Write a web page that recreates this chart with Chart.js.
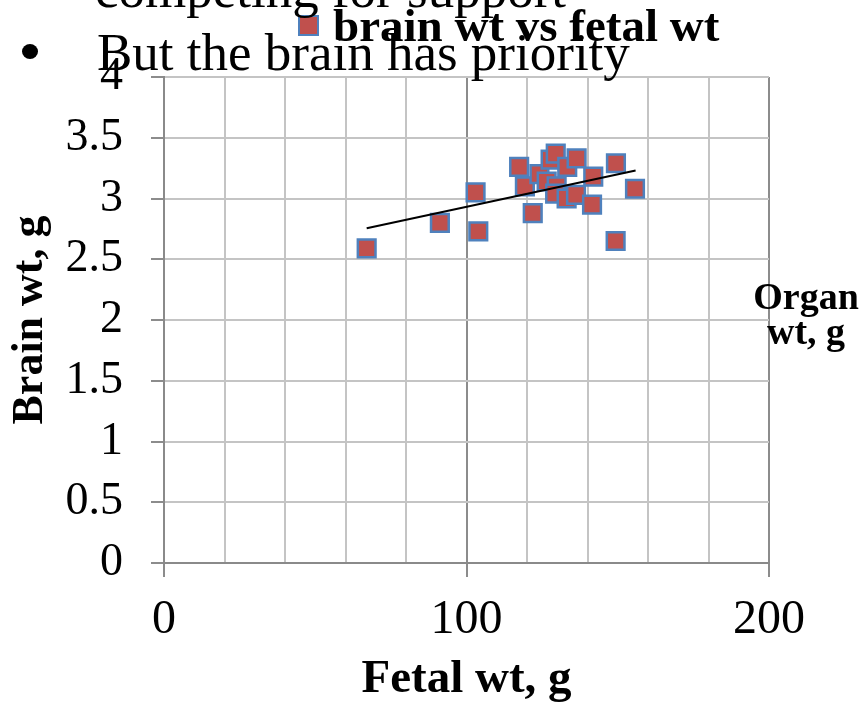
<!DOCTYPE html>
<html>
<head>
<meta charset="utf-8">
<script src="https://cdn.jsdelivr.net/npm/chart.js@4.4.0/dist/chart.umd.min.js"></script>
<style>
body { margin: 0; background: #fff; }
#wrap { position: relative; width: 862px; height: 707px; overflow: hidden; background: #fff; }
#myChart { position: absolute; left: 0; top: 0; }
.slide { position: absolute; font-family: "Liberation Serif", "Times New Roman", serif; color: #000; white-space: nowrap; line-height: 1; }
#bullet { position: absolute; left: 22px; top: 44px; width: 16px; height: 15px; border-radius: 50%; background: #000; }
</style>
</head>
<body>
<div id="wrap">
  <canvas id="myChart" width="862" height="707"></canvas>
  <div class="slide" style="left:95px; top:-37px; font-size:53px;">competing for support</div>
  <div id="bullet"></div>
  <div class="slide" style="left:97px; top:26px; font-size:53px;">But the brain has priority</div>
  <div class="slide" style="left:746px; top:279px; width:120px; font-size:38px; font-weight:bold; line-height:35px; text-align:center; white-space:normal;">Organ<br>wt, g</div>
</div>
<script>
var fetalWt = [67.0, 91.2, 103.0, 103.9, 117.4, 119.3, 121.9, 124.1, 127.8, 129.5, 126.5,
               129.8, 129.3, 133.3, 136.4, 133.1, 136.2, 141.9, 141.5, 149.4, 149.3, 155.7];
var brainWt = [2.59, 2.80, 3.05, 2.73, 3.26, 3.10, 2.88, 3.20, 3.32, 3.37, 3.14,
               3.10, 3.04, 3.26, 3.33, 3.00, 3.03, 3.18, 2.95, 3.29, 2.65, 3.08];

// linear trend line end points
var trendX = [67.0, 155.9];
var trendY = [2.755, 3.23];

var seriesName = "brain wt vs fetal wt";
var xTitle = "Fetal wt, g";
var yTitle = "Brain wt, g";

var points = [];
var i;
for (i = 0; i < fetalWt.length; i++) {
  points.push({x: fetalWt[i], y: brainWt[i]});
}
var trend = [];
for (i = 0; i < trendX.length; i++) {
  trend.push({x: trendX[i], y: trendY[i]});
}

var serif = '"Liberation Serif", "Times New Roman", serif';

// legend drawn by hand at the top, overlapping the slide text
var legendPlugin = {
  id: 'topLegend',
  afterDraw: function(chart) {
    var ctx = chart.ctx;
    var ds = chart.data.datasets[1];
    ctx.save();
    ctx.fillStyle = ds.backgroundColor;
    ctx.strokeStyle = ds.borderColor;
    ctx.lineWidth = 2;
    ctx.fillRect(299, 16, 19, 19);
    ctx.strokeRect(299, 16, 19, 19);
    ctx.fillStyle = '#000';
    ctx.font = 'bold 47px ' + serif;
    ctx.textBaseline = 'alphabetic';
    ctx.fillText(ds.label, 333, 41);
    ctx.restore();
  }
};

var ctx = document.getElementById("myChart").getContext("2d");

var chart = new Chart(ctx, {
  type: 'scatter',
  data: {
    datasets: [
      {
        label: "Linear (" + seriesName + ")",
        type: 'line',
        data: trend,
        borderColor: '#000',
        borderWidth: 2,
        pointRadius: 0,
        fill: false,
        order: 0
      },
      {
        label: seriesName,
        data: points,
        backgroundColor: '#C0504D',
        borderColor: '#4F81BD',
        borderWidth: 2.5,
        pointStyle: 'rect',
        pointRadius: 12.5,
        pointHoverRadius: 12.5,
        order: 1
      }
    ]
  },
  options: {
    responsive: false,
    animation: false,
    layout: { padding: { top: 77, left: 0, right: 93, bottom: 0 } },
    plugins: {
      legend: { display: false },
      tooltip: { enabled: false }
    },
    scales: {
      x: {
        type: 'linear',
        min: 0,
        max: 200,
        afterFit: function(scale) { scale.height = 144; },
        ticks: {
          stepSize: 20,
          padding: 15,
          color: '#000',
          font: { family: serif, size: 48 },
          maxRotation: 0,
          autoSkip: false,
          callback: function(v) { return v % 100 === 0 ? String(v) : ''; }
        },
        grid: {
          tickLength: 14,
          lineWidth: 2,
          color: function(c) { return c.tick && c.tick.value % 100 === 0 ? '#8c8c8c' : '#c4c4c4'; },
          tickColor: function(c) { return c.tick && c.tick.value % 100 === 0 ? '#8c8c8c' : 'rgba(0,0,0,0)'; }
        },
        border: { color: '#8a8a8a', width: 2 },
        title: {
          display: true,
          text: xTitle,
          color: '#000',
          font: { family: serif, size: 47, weight: 'bold', lineHeight: 1.15 },
          padding: { top: 0, bottom: 0 }
        }
      },
      y: {
        min: 0,
        max: 4,
        afterFit: function(scale) { scale.width = 164; },
        ticks: {
          stepSize: 0.5,
          padding: 28,
          color: '#000',
          font: { family: serif, size: 46 },
          callback: function(v) { return String(v); }
        },
        grid: {
          tickLength: 13,
          lineWidth: 2,
          color: '#c4c4c4',
          tickColor: '#8c8c8c'
        },
        border: { color: '#8a8a8a', width: 2 },
        title: {
          display: true,
          text: yTitle,
          color: '#000',
          font: { family: serif, size: 44, weight: 'bold', lineHeight: 1.2 },
          padding: { top: 4, bottom: 0 }
        }
      }
    }
  },
  plugins: [legendPlugin]
});
</script>
</body>
</html>
